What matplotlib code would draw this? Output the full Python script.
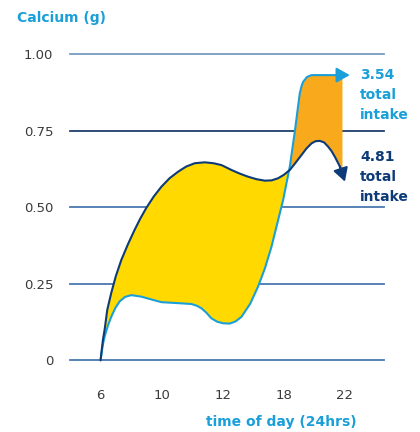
import matplotlib.pyplot as plt
import numpy as np

plt.rcParams['font.family'] = ['DejaVu Sans']

# x positions are category slots (0..4 -> 6, 10, 12, 18, 22 h)
tick_labels = ['6', '10', '12', '18', '22']
y_ticks = [0, 0.25, 0.5, 0.75, 1.0]
y_tick_labels = ['0', '0.25', '0.50', '0.75', '1.00']

# dark blue curve (4.81 total intake)
navy_x = [0, 0.02, 0.04, 0.066, 0.11, 0.175, 0.25, 0.34, 0.45, 0.557, 0.65, 0.749, 0.87,
          0.995, 1.13, 1.267, 1.40, 1.541, 1.705, 1.85, 1.979, 2.143, 2.28, 2.415, 2.55,
          2.689, 2.80, 2.907, 3.0, 3.098, 3.19, 3.29, 3.37, 3.454, 3.52, 3.59, 3.66, 3.726,
          3.78, 3.836, 3.88, 3.918, 3.96]
navy_y = [0, 0.035, 0.068, 0.099, 0.165, 0.22, 0.275, 0.328, 0.38, 0.426, 0.463, 0.498,
          0.535, 0.567, 0.595, 0.616, 0.633, 0.644, 0.647, 0.644, 0.638, 0.622, 0.610, 0.600,
          0.592, 0.587, 0.588, 0.595, 0.606, 0.622, 0.645, 0.671, 0.692, 0.709, 0.716, 0.717,
          0.712, 0.698, 0.684, 0.665, 0.648, 0.633, 0.612]
navy_tip = (4.0, 0.584)

# light blue curve (3.54 total intake)
light_x = [0, 0.02, 0.04, 0.066, 0.12, 0.175, 0.24, 0.311, 0.40, 0.503, 0.667, 0.83, 0.995,
           1.25, 1.487, 1.58, 1.651, 1.73, 1.815, 1.91, 2.005, 2.115, 2.21, 2.307, 2.45,
           2.579, 2.69, 2.798, 2.989, 3.098, 3.18, 3.23, 3.262, 3.29, 3.316, 3.38, 3.454,
           3.672, 3.96]
light_y = [0, 0.028, 0.053, 0.077, 0.113, 0.142, 0.170, 0.192, 0.207, 0.213, 0.208, 0.199,
           0.190, 0.187, 0.184, 0.178, 0.170, 0.156, 0.137, 0.126, 0.121, 0.120, 0.127, 0.142,
           0.185, 0.241, 0.300, 0.371, 0.524, 0.633, 0.747, 0.825, 0.873, 0.896, 0.910, 0.926,
           0.932, 0.932, 0.932]
light_tip = (4.08, 0.932)

cross_navy = navy_x.index(3.098)
cross_light = light_x.index(3.098)

LIGHT = '#1a9fd9'
NAVY = '#0d3b78'
YELLOW = '#ffd900'
ORANGE = '#f8aa1c'
GREY = '#3a3a3a'

fig = plt.figure(figsize=(4.2, 4.32), dpi=100)
ax = fig.add_axes([70 / 420, 1 - 360.3 / 432, 314 / 420, 306 / 432])
ax.set_xlim(-0.5, 4.64)
ax.set_ylim(0, 1)

grid_colors = ['#4a78b0', '#4a78b0', '#4a78b0', '#1f3f6e', '#7a9cc0']
for yv, c in zip(y_ticks, grid_colors):
    ax.axhline(yv, color=c, lw=1.3, clip_on=False, zorder=1)

# yellow area: navy going out, light blue coming back
yx = navy_x[:cross_navy + 1] + light_x[:cross_light + 1][::-1]
yy = navy_y[:cross_navy + 1] + light_y[:cross_light + 1][::-1]
ax.fill(yx, yy, color=YELLOW, lw=0, zorder=2)

# orange area: light blue going out, navy coming back
ox = light_x[cross_light:] + navy_x[cross_navy:][::-1]
oy = light_y[cross_light:] + navy_y[cross_navy:][::-1]
ax.fill(ox, oy, color=ORANGE, lw=0, zorder=2)

ax.plot(light_x, light_y, color=LIGHT, lw=1.5, zorder=3, clip_on=False,
        solid_capstyle='round', solid_joinstyle='round')
ax.plot(navy_x, navy_y, color=NAVY, lw=1.5, zorder=4, clip_on=False,
        solid_capstyle='round', solid_joinstyle='round')

arrow = '-|>,head_length=0.8,head_width=0.45'
ax.annotate('', xy=light_tip, xytext=(light_x[-1], light_y[-1]),
            arrowprops=dict(arrowstyle=arrow, color=LIGHT, lw=1.5, mutation_scale=10,
                            shrinkA=0, shrinkB=0), zorder=5, annotation_clip=False)
ax.annotate('', xy=navy_tip, xytext=(navy_x[-2], navy_y[-2]),
            arrowprops=dict(arrowstyle=arrow, color=NAVY, lw=1.5, mutation_scale=10,
                            shrinkA=0, shrinkB=0), zorder=5, annotation_clip=False)

for s in ax.spines.values():
    s.set_visible(False)
ax.set_xticks(range(len(tick_labels)))
ax.set_xticklabels(tick_labels)
ax.set_yticks(y_ticks)
ax.set_yticklabels(y_tick_labels)
ax.tick_params(length=0, labelsize=9.5, labelcolor=GREY)
ax.tick_params(axis='x', pad=21)
ax.tick_params(axis='y', pad=12)

fig.text(17 / 420, 1 - 18 / 432, 'Calcium (g)', color=LIGHT, fontsize=10,
         fontweight='bold', ha='left', va='center')
fig.text(357 / 420, 1 - 422 / 432, 'time of day (24hrs)', color=LIGHT, fontsize=10,
         fontweight='bold', ha='right', va='center')
fig.text(360 / 420, 1 - 68 / 432, '3.54\ntotal\nintake', color=LIGHT, fontsize=10,
         fontweight='bold', ha='left', va='top', linespacing=1.56)
fig.text(360 / 420, 1 - 150 / 432, '4.81\ntotal\nintake', color=NAVY, fontsize=10,
         fontweight='bold', ha='left', va='top', linespacing=1.56)

fig.savefig('out.png', dpi=100)
